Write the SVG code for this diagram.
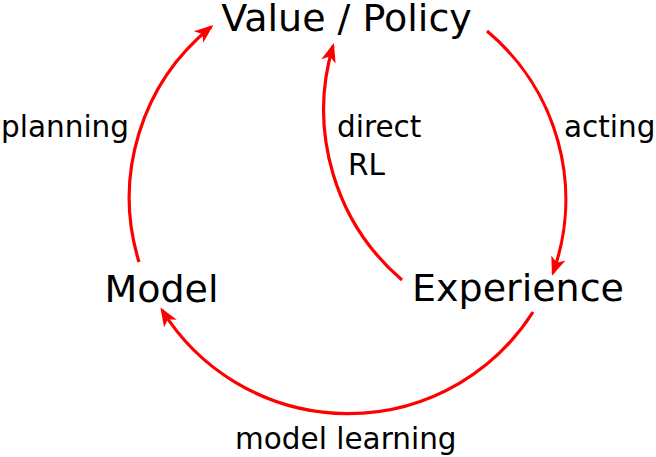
<svg xmlns="http://www.w3.org/2000/svg" width="656" height="457" viewBox="0 0 656 457">
<defs>
<style>
.node{font-family:"DejaVu Sans","Liberation Sans",sans-serif;font-size:38px;fill:#000}
.lbl{font-family:"DejaVu Sans","Liberation Sans",sans-serif;font-size:29.5px;fill:#000}
.arc{fill:none;stroke:#ff0000;stroke-width:3.2}
</style>
<marker id="ah" markerUnits="userSpaceOnUse" markerWidth="26" markerHeight="22" viewBox="-20 -11 26 22" refX="0" refY="0" orient="auto">
<path d="M3,0 L-16,-7.5 L-11,0 L-16,7.5 Z" fill="#ff0000"/>
</marker>
</defs>
<rect width="656" height="457" fill="#fff"/>
<g id="connectors">
<path class="arc" d="M139,262 A219,219 0 0 1 211,27" marker-end="url(#ah)"/>
<path class="arc" d="M487,31 A219,219 0 0 1 553,273" marker-end="url(#ah)"/>
<path class="arc" d="M533,312 A219,219 0 0 1 162,310" marker-end="url(#ah)"/>
<path class="arc" d="M402,280 A224,224 0 0 1 333,46" marker-end="url(#ah)"/>
</g>
<g id="value-policy"><text class="node" x="346.5" y="31" text-anchor="middle">Value / Policy</text></g>
<g id="model"><text class="node" x="161.5" y="302" text-anchor="middle">Model</text></g>
<g id="experience"><text class="node" x="518" y="301" text-anchor="middle">Experience</text></g>
<g id="labels">
<text class="lbl" x="1" y="137">planning</text>
<text class="lbl" x="337" y="137">direct</text>
<text class="lbl" x="348" y="175">RL</text>
<text class="lbl" x="564" y="137">acting</text>
<text class="lbl" x="235" y="449">model learning</text>
</g>
</svg>
